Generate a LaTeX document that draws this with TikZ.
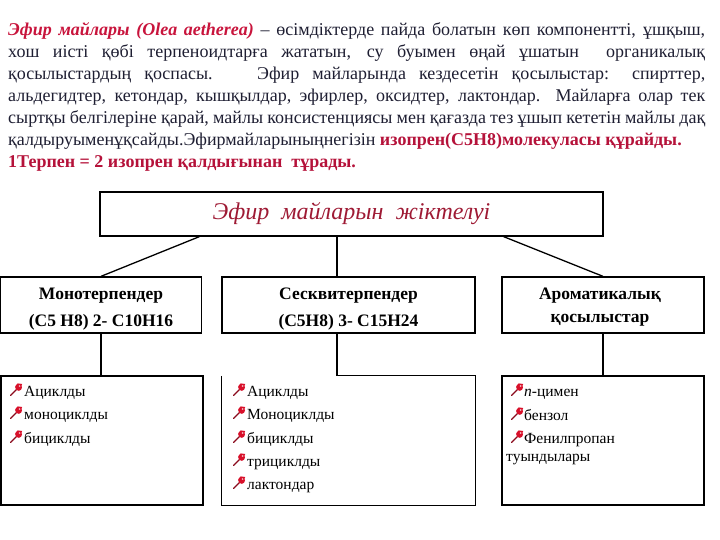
\documentclass[tikz,border=0pt]{standalone}
\usepackage{fontspec}
\setmainfont{Liberation Serif}
\definecolor{headred}{HTML}{C8143C}
\definecolor{boldred}{HTML}{B5123A}
\definecolor{titlered}{HTML}{9E1A34}
\definecolor{bodytxt}{HTML}{1E1E32}
\definecolor{pinred}{HTML}{D8102A}
\definecolor{pindark}{HTML}{8A0A1C}
\tikzset{
  line/.style={anchor=base west, inner sep=0pt, text=bodytxt, font=\fontsize{18}{22}\selectfont},
  box/.style={draw, line width=1.3pt, inner sep=0pt},
  boxlabel/.style={anchor=base, inner sep=0pt, font=\bfseries\fontsize{17.5}{22}\selectfont},
  conn/.style={line width=1.3pt},
  item/.style={anchor=base west, inner sep=0pt, font=\fontsize{15.5}{18}\selectfont},
  pin/.pic={
    \draw[pindark, line width=1.3pt, line cap=round] (0.5,-0.5) -- (6.5,-6.5);
    \fill[pinred] (8.6,-8.6) circle (3.4pt);
    \fill[pinred] (5.2,-9.6) -- (7.6,-12.6) -- (12.2,-12.0) -- (9.6,-5.6) -- cycle;
    \fill[white!70!pinred] (9.6,-10.0) circle (0.9pt);
  }
}
\begin{document}
\begin{tikzpicture}[x=1pt,y=-1pt]
\useasboundingbox (0,0) rectangle (720,540);

% paragraph lines
\node[line] (p1) at (8,36) {\makebox[697pt][s]{\textcolor{headred}{\bfseries\itshape Эфир майлары (Olea aetherea)} – өсімдіктерде пайда болатын көп компонентті, ұшқыш,}};
\node[line] (p2) at (8,58) {\makebox[697pt][s]{хош иісті қөбі терпеноидтарға жататын, су буымен өңай ұшатын \ органикалық}};
\node[line] (p3) at (8,80) {\makebox[697pt][s]{қосылыстардың қоспасы. \ Эфир майларында кездесетін қосылыстар: спирттер,}};
\node[line] (p4) at (8,102) {\makebox[697pt][s]{альдегидтер, кетондар, кышқылдар, эфирлер, оксидтер, лактондар. Майларға олар тек}};
\node[line] (p5) at (8,124) {\makebox[697pt][s]{сыртқы белгілеріне қарай, майлы консистенциясы мен қағазда тез ұшып кететін майлы дақ}};
\node[line] (p6) at (8,146) {қалдыруыменұқсайды.Эфирмайларыныңнегізін \textcolor{boldred}{\bfseries изопрен(С5Н8)молекуласы құрайды.}};
\node[line] (p7) at (8,168) {\textcolor{boldred}{\bfseries 1Терпен = 2 изопрен қалдығынан \ тұрады.}};

% title box
\node[box, minimum width=503pt, minimum height=44pt, text=titlered, font=\itshape\fontsize{24}{28}\selectfont] (title) at (351.5,214) {Эфир \ майларын \ жіктелуі};

% category boxes
\node[box, minimum width=201pt, minimum height=56pt] (b1) at (101,305) {};
\node[box, minimum width=253pt, minimum height=56pt] (b2) at (348.5,305) {};
\node[box, minimum width=202pt, minimum height=56pt] (b3) at (603,305) {};
\node[boxlabel] (b1a) at (101,299) {Монотерпендер};
\node[boxlabel] (b1b) at (101,326) {(С5 Н8) 2- С10Н16};
\node[boxlabel] (b2a) at (348.5,299) {Сесквитерпендер};
\node[boxlabel] (b2b) at (348.5,326) {(С5Н8) 3- С15Н24};
\node[boxlabel] (b3a) at (600,299) {Ароматикалық};
\node[boxlabel] (b3b) at (600,322) {қосылыстар};

% list boxes
\node[box, minimum width=202pt, minimum height=129pt] (l1) at (102,440.5) {};
\node[inner sep=0pt, minimum width=253pt, minimum height=129pt] (l2) at (348.5,440.5) {};
\node[box, minimum width=202pt, minimum height=129pt] (l3) at (603,440.5) {};
\coordinate (v2) at (337,0);
\draw[conn] (l2.north west) -- (l2.south west) -- (l2.south east) -- (l2.north east) -- (l2.north -| v2);

% connectors
\draw[conn] ([xshift=100pt]title.south west) -- (b1.north);
\draw[conn] (title.south -| v2) -- (b2.north -| v2);
\draw[conn] ([xshift=-100pt]title.south east) -- (b3.north);
\draw[conn] (b1.south) -- (b1.south |- l1.north);
\draw[conn] (b2.south -| v2) -- (l2.north -| v2);
\draw[conn] (b3.south) -- (b3.south |- l3.north);

% list 1
\pic at (10,396) {pin}; \node[item] (i11) at (24,396) {Ациклды};
\pic at (10,419) {pin}; \node[item] (i12) at (24,419) {моноциклды};
\pic at (10,443) {pin}; \node[item] (i13) at (24,443) {бициклды};
% list 2
\pic at (233,396) {pin}; \node[item] (i21) at (247,396) {Ациклды};
\pic at (233,419) {pin}; \node[item] (i22) at (247,419) {Моноциклды};
\pic at (233,443) {pin}; \node[item] (i23) at (247,443) {бициклды};
\pic at (233,466) {pin}; \node[item] (i24) at (247,466) {трициклды};
\pic at (233,489) {pin}; \node[item] (i25) at (247,489) {лактондар};
% list 3
\pic at (511,396) {pin}; \node[item] (i31) at (524,396) {\textit{п}-цимен};
\pic at (511,420) {pin}; \node[item] (i32) at (524,420) {бензол};
\pic at (511,443) {pin}; \node[item] (i33) at (524,443) {Фенилпропан};
\node[item] (i34) at (506,461) {туындылары};
\end{tikzpicture}
\end{document}
